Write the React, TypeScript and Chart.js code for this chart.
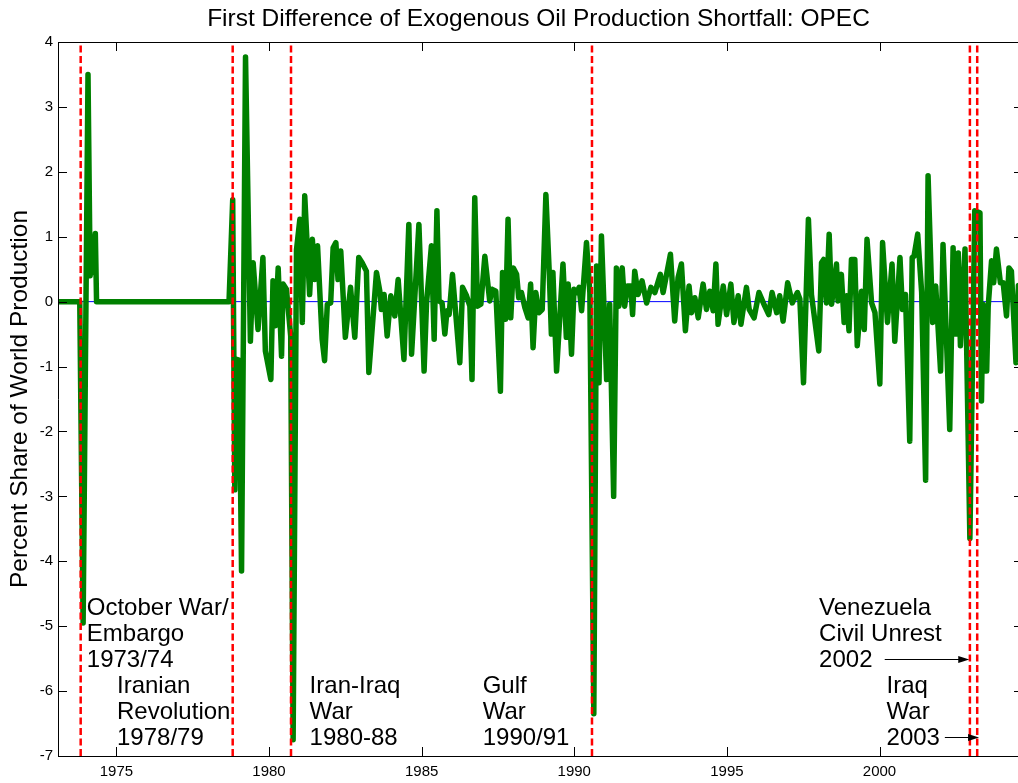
import React, { useEffect, useRef } from "react";
import { Chart, registerables } from "chart.js";

Chart.register(...registerables);

// ---------- data ----------
const chartTitle = "First Difference of Exogenous Oil Production Shortfall: OPEC";
const yAxisTitle = "Percent Share of World Production";

const xMin = 1973.087;
const xMax = 2004.7;
const yMin = -7;
const yMax = 4;
const xTickStep = 5;
const yTickStep = 1;

// decimal year of each visible vertex of the series
const shortfallYears = [
  1973.087, 1973.8, 1973.91, 1974.07, 1974.14, 1974.21, 1974.26, 1974.31, 1974.35,
  1978.69, 1978.81, 1978.88, 1978.94, 1979.02, 1979.1, 1979.23, 1979.39, 1979.48, 1979.64,
  1979.8, 1979.88, 1980.06, 1980.13, 1980.21, 1980.3, 1980.41, 1980.46, 1980.57, 1980.71,
  1980.79, 1980.9, 1981.01, 1981.09, 1981.17, 1981.33, 1981.42, 1981.5, 1981.59, 1981.74,
  1981.82, 1981.91, 1982.02, 1982.1, 1982.19, 1982.26, 1982.35, 1982.5, 1982.67, 1982.81,
  1982.94, 1983.05, 1983.19, 1983.27, 1983.52, 1983.63, 1983.68, 1983.77, 1983.87, 1983.99,
  1984.12, 1984.23, 1984.42, 1984.58, 1984.67, 1984.91, 1985.08, 1985.16, 1985.32, 1985.41,
  1985.5, 1985.57, 1985.67, 1985.76, 1985.83, 1985.9, 1986.01, 1986.25, 1986.34, 1986.47,
  1986.58, 1986.65, 1986.74, 1986.83, 1986.94, 1987.07, 1987.23, 1987.31, 1987.43, 1987.58,
  1987.65, 1987.75, 1987.83, 1987.92, 1988.0, 1988.11, 1988.18, 1988.27, 1988.38, 1988.49,
  1988.57, 1988.65, 1988.74, 1988.84, 1988.95, 1989.07, 1989.18, 1989.25, 1989.3, 1989.42,
  1989.63, 1989.74, 1989.8, 1989.91, 1989.99, 1990.09, 1990.16, 1990.24, 1990.4, 1990.51,
  1990.64, 1990.73, 1990.81, 1990.89, 1991.06, 1991.16, 1991.29, 1991.38, 1991.46, 1991.57,
  1991.65, 1991.74, 1991.85, 1991.91, 1991.98, 1992.09, 1992.22, 1992.37, 1992.51, 1992.64,
  1992.82, 1992.91, 1993.15, 1993.29, 1993.4, 1993.51, 1993.64, 1993.76, 1993.84, 1993.95,
  1994.06, 1994.22, 1994.33, 1994.44, 1994.55, 1994.64, 1994.71, 1994.88, 1994.99, 1995.13,
  1995.23, 1995.37, 1995.46, 1995.64, 1995.73, 1995.89, 1996.05, 1996.24, 1996.37, 1996.48,
  1996.63, 1996.73, 1996.84, 1996.99, 1997.14, 1997.31, 1997.39, 1997.51, 1997.67, 1997.77,
  1998.01, 1998.1, 1998.17, 1998.26, 1998.35, 1998.43, 1998.59, 1998.64, 1998.75, 1998.84,
  1998.92, 1999.0, 1999.08, 1999.19, 1999.27, 1999.41, 1999.5, 1999.59, 1999.74, 1999.85,
  2000.01, 2000.1, 2000.26, 2000.41, 2000.5, 2000.67, 2000.75, 2000.85, 2000.99, 2001.07,
  2001.13, 2001.25, 2001.38, 2001.51, 2001.59, 2001.74, 2001.84, 2002.0, 2002.08, 2002.3,
  2002.41, 2002.49, 2002.58, 2002.65, 2002.8, 2002.96, 2003.12, 2003.29, 2003.34, 2003.39,
  2003.51, 2003.56, 2003.67, 2003.74, 2003.83, 2003.96, 2004.05, 2004.16, 2004.24, 2004.32,
  2004.47, 2004.55, 2004.7,
];

const shortfallValues = [
  0, 0, -4.95, 3.5, 0.4, 1.0, 0.45, 1.05, 0,
  0, 1.57, -2.9, -0.89, -0.9, -4.15, 3.77, -0.61, 0.6, -0.43,
  0.68, -0.76, -1.2, 0.32, -0.37, 0.52, -0.84, 0.27, 0.19, -0.53,
  -6.75, 0.8, 1.27, -0.32, 1.63, 0.11, 0.96, 0.34, 0.86, -0.58,
  -0.91, -0.04, -0.02, 0.83, 0.91, 0.34, 0.78, -0.55, 0.22, -0.55,
  0.68, 0.6, 0.47, -1.09, 0.45, 0.16, -0.12, 0.11, -0.53, 0.09,
  -0.22, 0.34, -0.89, 1.19, -0.81, 1.19, -1.07, -0.02, 0.86, -0.58,
  1.4, 0.01, -0.02, -0.5, -0.14, -0.2, 0.42, -0.94, 0.22, 0.09,
  -0.07, -1.2, 1.6, -0.07, -0.04, 0.7, 0.01, 0.19, 0.16, -1.38,
  0.45, -0.27, 1.27, -0.25, 0.52, 0.42, 0.06, 0.14, -0.09, -0.25,
  0.27, -0.71, 0.14, -0.17, -0.12, 1.65, 0.45, -0.5, 0.45, -1.07,
  0.58, -0.55, 0.27, -0.81, 0.19, 0.14, 0.22, -0.14, 0.91, 0.14,
  -6.35, 0.55, -1.25, 1.01, -1.2, -0.04, -3.0, 0.52, -0.07, 0.52,
  -0.07, 0.24, 0.24, -0.2, 0.47, 0.11, 0.32, -0.02, 0.22, 0.14,
  0.42, 0.14, 0.73, -0.3, 0.37, 0.58, -0.45, 0.24, -0.17, 0.06,
  -0.25, 0.27, -0.12, 0.16, -0.14, 0.58, -0.35, 0.24, -0.2, 0.27,
  -0.32, 0.09, -0.35, 0.22, -0.12, -0.25, 0.14, -0.07, -0.2, 0.14,
  -0.17, 0.09, -0.3, 0.29, -0.02, 0.14, 0.04, -1.25, 1.27, 0.11,
  -0.76, 0.6, 0.65, -0.02, 1.04, -0.04, 0.58, 0.01, 0.42, -0.32,
  0.09, -0.45, 0.65, 0.65, -0.68, 0.16, -0.43, 0.96, -0.02, -0.17,
  -1.27, 0.91, -0.32, 0.58, -0.61, 0.68, -0.12, 0.11, -2.15, 0.68,
  0.7, 1.04, 0.14, -2.75, 1.94, -0.32, 0.24, -1.07, 0.88, -1.97,
  0.83, -0.5, 0.75, -0.68, 0.81, -3.65, 1.4, 1.37, -1.53, -0.04,
  -1.07, -0.07, 0.63, 0.29, 0.81, 0.29, 0.29, -0.22, 0.52, 0.47,
  -0.94, 0.25, 0.2,
];

// dates of the shocks (red dashed lines)
const eventYears = [1973.83, 1978.81, 1980.72, 1990.58, 2002.96, 2003.2];

// annotations: lines of text, left x (year), first baseline (value)
const annotationTexts = [
  ["October War/", "Embargo", "1973/74"],
  ["Iranian", "Revolution", "1978/79"],
  ["Iran-Iraq", "War", "1980-88"],
  ["Gulf", "War", "1990/91"],
  ["Venezuela", "Civil Unrest", "2002"],
  ["Iraq", "War", "2003"],
];
const annotationYears = [1974.03, 1975.02, 1981.33, 1987.0, 1998.02, 2000.23];
const annotationValues = [-4.83, -6.03, -6.03, -6.03, -4.83, -6.03];

// arrows pointing to the event lines
const arrowFromYears = [2000.17, 2002.14];
const arrowToYears = [2002.94, 2003.26];
const arrowValues = [-5.51, -6.7];

// ---------- styles ----------
const FONT = "'Liberation Sans', Arial, Helvetica, sans-serif";
const CANVAS_W = 1040;
const CANVAS_H = 783;

const overlayPlugin = {
  id: "overlay",
  afterDraw(chart: any) {
    const ctx = chart.ctx;
    const { left, right, top, bottom } = chart.chartArea;
    const xs = chart.scales.x;
    const ys = chart.scales.y;
    ctx.save();

    // frame
    ctx.strokeStyle = "#000";
    ctx.lineWidth = 1;
    ctx.beginPath();
    ctx.rect(Math.round(left) + 0.5, Math.round(top) + 0.5, Math.round(right - left), Math.round(bottom - top));
    ctx.stroke();

    // inward ticks on all four sides
    const tl = 9;
    ctx.beginPath();
    ys.ticks.forEach((t: any) => {
      const y = Math.round(ys.getPixelForValue(t.value)) + 0.5;
      ctx.moveTo(left, y);
      ctx.lineTo(left + tl, y);
      ctx.moveTo(right, y);
      ctx.lineTo(right - tl, y);
    });
    xs.ticks.forEach((t: any) => {
      const x = Math.round(xs.getPixelForValue(t.value)) + 0.5;
      ctx.moveTo(x, bottom);
      ctx.lineTo(x, bottom - tl);
      ctx.moveTo(x, top);
      ctx.lineTo(x, top + tl);
    });
    ctx.stroke();

    // title
    ctx.fillStyle = "#000";
    ctx.font = `24.5px ${FONT}`;
    ctx.textAlign = "center";
    ctx.textBaseline = "middle";
    ctx.fillText(chartTitle, (left + right) / 2 - 2, 19);

    // annotations
    ctx.font = `24px ${FONT}`;
    ctx.textAlign = "left";
    ctx.textBaseline = "alphabetic";
    annotationTexts.forEach((lines, i) => {
      const x = xs.getPixelForValue(annotationYears[i]);
      const y0 = ys.getPixelForValue(annotationValues[i]);
      lines.forEach((line, j) => ctx.fillText(line, x, y0 + j * 26));
    });

    // arrows
    ctx.strokeStyle = "#000";
    ctx.fillStyle = "#000";
    ctx.lineWidth = 1;
    arrowFromYears.forEach((fx, i) => {
      const x1 = xs.getPixelForValue(fx);
      const x2 = xs.getPixelForValue(arrowToYears[i]);
      const y = Math.round(ys.getPixelForValue(arrowValues[i])) + 0.5;
      ctx.beginPath();
      ctx.moveTo(x1, y);
      ctx.lineTo(x2 - 10, y);
      ctx.stroke();
      ctx.beginPath();
      ctx.moveTo(x2, y);
      ctx.lineTo(x2 - 11, y - 3.5);
      ctx.lineTo(x2 - 11, y + 3.5);
      ctx.closePath();
      ctx.fill();
    });

    ctx.restore();
  },
};

export default function App() {
  const canvasRef = useRef<HTMLCanvasElement | null>(null);

  useEffect(() => {
    const canvas = canvasRef.current;
    if (!canvas) return;

    const seriesData = shortfallYears.map((x, i) => ({ x, y: shortfallValues[i] }));

    const eventDatasets = eventYears.map((d) => ({
      data: [
        { x: d, y: yMin },
        { x: d, y: yMax },
      ],
      borderColor: "#ff0000",
      borderWidth: 2.5,
      borderDash: [7, 3.5],
      pointRadius: 0,
      order: 0,
    }));

    const chart = new Chart(canvas, {
      type: "line",
      data: {
        datasets: [
          ...eventDatasets,
          {
            data: seriesData,
            borderColor: "#008000",
            borderWidth: 5.5,
            borderJoinStyle: "round",
            borderCapStyle: "round",
            pointRadius: 0,
            tension: 0,
            order: 1,
          },
          {
            data: [
              { x: xMin, y: 0 },
              { x: xMax, y: 0 },
            ],
            borderColor: "#0000ff",
            borderWidth: 1,
            pointRadius: 0,
            order: 2,
          },
        ] as any,
      },
      options: {
        responsive: false,
        maintainAspectRatio: false,
        animation: false,
        layout: { padding: { top: 42, right: 17, left: 0, bottom: 0 } },
        plugins: {
          legend: { display: false },
          tooltip: { enabled: false },
          title: { display: false },
        },
        scales: {
          x: {
            type: "linear",
            min: xMin,
            max: xMax,
            grid: { display: false, drawTicks: false },
            border: { display: false },
            ticks: {
              stepSize: xTickStep,
              includeBounds: false,
              maxRotation: 0,
              autoSkip: false,
              padding: 7,
              color: "#000",
              font: { family: FONT, size: 15 },
              callback: (v: any) => String(v),
            },
            afterFit: (scale: any) => {
              scale.height = 27;
            },
          },
          y: {
            type: "linear",
            min: yMin,
            max: yMax,
            grid: { display: false, drawTicks: false },
            border: { display: false },
            ticks: {
              stepSize: yTickStep,
              padding: 5,
              color: "#000",
              font: { family: FONT, size: 15 },
              callback: (v: any) => String(v),
            },
            title: {
              display: true,
              text: yAxisTitle,
              color: "#000",
              font: { family: FONT, size: 24.5 },
              padding: { top: 6, bottom: 0 },
            },
            afterFit: (scale: any) => {
              scale.width = 58;
            },
          },
        },
      } as any,
      plugins: [overlayPlugin],
    });

    return () => chart.destroy();
  }, []);

  return (
    <div
      style={{
        position: "fixed",
        left: 0,
        top: 0,
        width: 1018,
        height: 783,
        overflow: "hidden",
        background: "#fff",
      }}
    >
      <canvas ref={canvasRef} width={CANVAS_W} height={CANVAS_H} style={{ display: "block" }} />
    </div>
  );
}
